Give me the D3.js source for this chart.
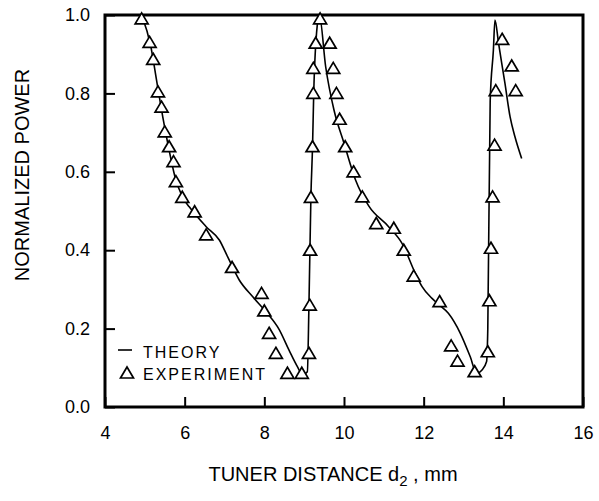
<!DOCTYPE html>
<html>
<head>
<meta charset="utf-8">
<script src="https://cdn.jsdelivr.net/npm/d3@7"></script>
<style>
    body { margin: 0; background: #fff; }
    svg { display: block; font-family: "Liberation Sans", Arial, Helvetica, sans-serif; }
</style>
</head>
<body>
<svg id="chart" width="599" height="501"></svg>
<script>
// theory curve, tuner distance (mm) vs normalized power
const theoryX = [4.92, 5.15, 5.30, 5.45, 5.60, 5.75, 5.95, 6.12, 6.54, 6.87, 7.08, 7.37, 7.71, 8.04, 8.37, 8.62, 8.83, 8.96, 9.08,
    9.12, 9.17, 9.21, 9.24, 9.33, 9.38, 9.54, 9.75, 10.0, 10.29, 10.62, 11.12, 11.46, 11.79, 11.96, 12.21, 12.37, 12.62, 12.92,
    13.17, 13.33, 13.46, 13.58, 13.61, 13.67, 13.75, 13.79, 13.88, 14.04, 14.17, 14.29, 14.46];
const theoryY = [1.0, 0.92, 0.83, 0.74, 0.66, 0.59, 0.535, 0.51, 0.46, 0.426, 0.383, 0.324, 0.281, 0.243, 0.198, 0.145, 0.103, 0.082, 0.09,
    0.26, 0.54, 0.664, 0.80, 0.975, 1.0, 0.868, 0.757, 0.673, 0.579, 0.513, 0.46, 0.417, 0.341, 0.307, 0.277, 0.262, 0.239, 0.188,
    0.128, 0.086, 0.094, 0.116, 0.20, 0.78, 0.91, 0.987, 0.928, 0.826, 0.74, 0.69, 0.634];

// measured points
const expX = [4.92, 5.12, 5.21, 5.33, 5.42, 5.50, 5.61, 5.72, 5.78, 5.94, 6.25, 6.54, 7.19, 7.93, 8.00, 8.12, 8.29, 8.58, 8.94,
    9.12, 9.14, 9.15, 9.17, 9.21, 9.23, 9.23, 9.29, 9.40, 9.64, 9.73, 9.81, 9.89, 10.03, 10.24, 10.46, 10.81, 11.25, 11.50,
    11.75, 12.40, 12.69, 12.85, 13.28, 13.61, 13.65, 13.69, 13.73, 13.78, 13.81, 13.97, 14.21, 14.31];
const expY = [0.99, 0.93, 0.887, 0.804, 0.765, 0.702, 0.664, 0.626, 0.575, 0.535, 0.498, 0.439, 0.356, 0.29, 0.245, 0.188, 0.137, 0.086, 0.086,
    0.137, 0.26, 0.40, 0.535, 0.664, 0.80, 0.864, 0.928, 0.99, 0.928, 0.864, 0.80, 0.734, 0.664, 0.60, 0.536, 0.468, 0.456, 0.40,
    0.334, 0.269, 0.156, 0.117, 0.09, 0.141, 0.271, 0.405, 0.536, 0.668, 0.807, 0.938, 0.87, 0.807];

const xTicks = [4, 6, 8, 10, 12, 14, 16];
const yTicks = [0, 0.2, 0.4, 0.6, 0.8, 1.0];
const legendLabels = ["THEORY", "EXPERIMENT"];

const margin = {top: 15, right: 16, bottom: 94, left: 105};
const width = 599, height = 501;

let svg = d3.select('#chart');

let x = d3.scaleLinear()
    .domain([4, 16])
    .range([margin.left, width - margin.right]);

let y = d3.scaleLinear()
    .domain([0, 1])
    .range([height - margin.bottom, margin.top]);

let theory = theoryX.map((v, i) => [v, theoryY[i]]);
let experiment = expX.map((v, i) => [v, expY[i]]);

let xAxis = svg.append('g')
    .attr('transform', 'translate(0,' + y(0) + ')')
    .call(d3.axisBottom(x).tickValues(xTicks).tickFormat(d3.format('d')).tickSize(-10).tickSizeOuter(0).tickPadding(19));

let yAxis = svg.append('g')
    .attr('transform', 'translate(' + x(4) + ',0)')
    .call(d3.axisLeft(y).tickValues(yTicks).tickFormat(d3.format('.1f')).tickSize(-10).tickSizeOuter(0).tickPadding(15));

[xAxis, yAxis].forEach(a => {
    a.select('.domain').remove();
    a.selectAll('.tick line').attr('stroke', '#000').attr('stroke-width', 2);
    a.selectAll('.tick text')
        .attr('fill', '#000')
        .style('font-size', '18px')
        .style('font-family', '"Liberation Sans", Arial, sans-serif');
});

// frame
svg.append('rect')
    .attr('x', x(4))
    .attr('y', y(1))
    .attr('width', x(16) - x(4))
    .attr('height', y(0) - y(1))
    .attr('fill', 'none')
    .attr('stroke', '#000')
    .attr('stroke-width', 3);

let line = d3.line()
    .x(d => x(d[0]))
    .y(d => y(d[1]))
    .curve(d3.curveMonotoneX);

svg.append('path')
    .datum(theory)
    .attr('d', line)
    .attr('fill', 'none')
    .attr('stroke', '#000')
    .attr('stroke-width', 1.6);

let tri = 'M0,-6L6.5,5L-6.5,5Z';

svg.append('g')
    .selectAll('path')
    .data(experiment)
    .join('path')
    .attr('transform', d => 'translate(' + x(d[0]) + ',' + y(d[1]) + ')')
    .attr('d', tri)
    .attr('fill', '#fff')
    .attr('stroke', '#000')
    .attr('stroke-width', 1.7);

// legend
let legend = svg.append('g')
    .style('font-size', '16px')
    .style('letter-spacing', '2px');

legend.append('line')
    .attr('x1', 118).attr('x2', 132)
    .attr('y1', 350).attr('y2', 350)
    .attr('stroke', '#000')
    .attr('stroke-width', 1.6);

legend.append('text')
    .attr('x', 143).attr('y', 358)
    .text(legendLabels[0]);

legend.append('path')
    .attr('transform', 'translate(127,373)')
    .attr('d', tri)
    .attr('fill', '#fff')
    .attr('stroke', '#000')
    .attr('stroke-width', 1.7);

legend.append('text')
    .attr('x', 143).attr('y', 380)
    .text(legendLabels[1]);

// axis titles
svg.append('text')
    .attr('transform', 'translate(29,' + 175 + ') rotate(-90)')
    .attr('text-anchor', 'middle')
    .style('font-size', '20px')
    .text('NORMALIZED POWER');

let xTitle = svg.append('text')
    .attr('x', 333)
    .attr('y', 481)
    .attr('text-anchor', 'middle')
    .style('font-size', '20px');

xTitle.append('tspan').text('TUNER DISTANCE d');
xTitle.append('tspan').attr('dy', 5).style('font-size', '15px').text('2');
xTitle.append('tspan').attr('dy', -5).text(' ,  mm');
</script>
</body>
</html>
